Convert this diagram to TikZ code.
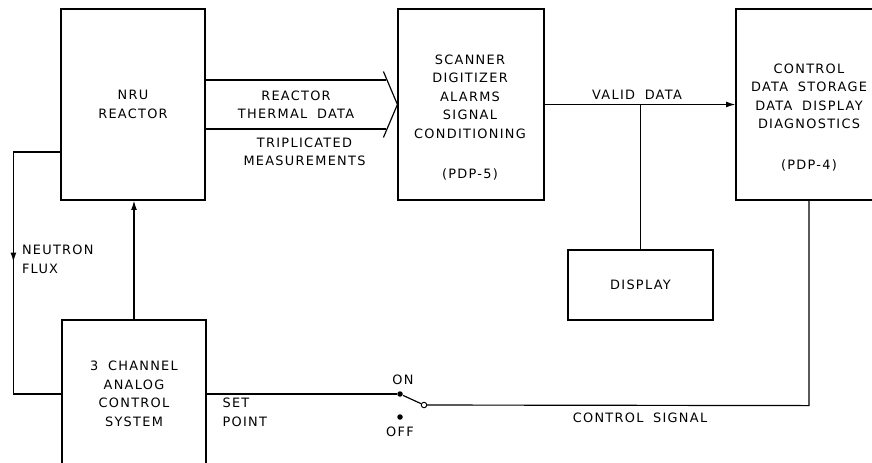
\documentclass[tikz,border=0pt]{standalone}
\usepackage{fontspec}
\setmainfont[LetterSpace=10,WordSpace=1.8]{DejaVu Sans}
\usetikzlibrary{positioning,arrows.meta,calc}

\newcommand{\pxu}{0.03cm}

\begin{document}
\begin{tikzpicture}[x=\pxu, y=-\pxu,
  box/.style={draw, line width=1pt, inner sep=0pt},
  lbl/.style={align=center, font=\fontsize{11}{15.8}\selectfont, inner sep=0pt},
  dot/.style={circle, fill, inner sep=0pt, minimum size=5.5*\pxu},
  ring/.style={circle, draw, fill=white, line width=0.8pt, inner sep=0pt, minimum size=5.5*\pxu},
  >={Latex[length=8pt,width=5pt]}, line width=1pt]
\useasboundingbox (0,0) rectangle (872,462);
\clip (0,0) rectangle (872,462);

% blocks
\node[box, lbl, minimum width=144*\pxu, minimum height=191*\pxu] (reactor) at (133,104.5) {NRU\\REACTOR};
\node[box, minimum width=146*\pxu, minimum height=191*\pxu] (scan) at (471,104.5) {};
\node[box, minimum width=146*\pxu, minimum height=191*\pxu] (pdp4) at (809,104.5) {};
\node[box, lbl, minimum width=145*\pxu, minimum height=70*\pxu] (disp) at (640.5,285) {DISPLAY};
\node[box, minimum width=144*\pxu, minimum height=148*\pxu] (ctrl) at (134,394) {};

\node[lbl] (scantxt) at ($(scan.center)+(-1,13)$) {SCANNER\\DIGITIZER\\ALARMS\\SIGNAL\\CONDITIONING\\[19pt](PDP-5)};
\node[lbl] (pdptxt) at ($(pdp4.center)+(0,13)$) {CONTROL\\DATA STORAGE\\DATA DISPLAY\\DIAGNOSTICS\\[19pt](PDP-4)};
\node[lbl] (ctrltxt) at (ctrl.center) {3 CHANNEL\\ANALOG\\CONTROL\\SYSTEM};

% thermal data bus
\coordinate (chev) at (scan.west);
\draw ($(reactor.east)+(0,-24.5)$) -- ($(chev)+(-11,-24.5)$);
\draw ($(reactor.east)+(0,24.5)$) -- ($(chev)+(-11,24.5)$);
\draw ($(chev)+(-14,-33)$) -- (chev) -- ($(chev)+(-14,33)$);
\node[lbl] (thermal) at (296,104.5) {REACTOR\\THERMAL DATA};
\node[lbl] (tripl) at (304.5,152) {TRIPLICATED\\MEASUREMENTS};

% valid data
\draw[->] (scan.east) -- (pdp4.west);
\draw (disp.north) -- (disp.north |- scan.east);
\node[lbl] (valid) at (637,95) {VALID DATA};

% neutron flux loop
\coordinate (fluxc) at ($(reactor.west)+(-47,47.5)$);
\draw ($(reactor.west)+(0,47.5)$) -- (fluxc) |- (ctrl.west);
\draw[->] (fluxc) -- ($(fluxc)+(0,110)$);
\node[lbl, align=left, anchor=west] (flux) at ($(fluxc)+(8,107.5)$) {NEUTRON\\FLUX};
\draw[->] (ctrl.north) -- (ctrl.north |- reactor.south);

% switch and control signal
\node[dot] (on) at (400,394) {};
\node[dot] (off) at (400,417) {};
\node[ring] (swb) at (424,405) {};
\draw (ctrl.east) -- (on);
\draw (on) -- (swb);
\node[lbl] (ontxt) at (403,380) {ON};
\node[lbl] (offtxt) at (400,432) {OFF};
\node[lbl, align=left, anchor=west] (setpt) at (222,412.5) {SET\\POINT};
\coordinate (csig) at ($(pdp4.south)+(0,205)$);
\draw (swb) -- (csig) -- (pdp4.south);
\node[lbl] (ctrlsig) at (640,418) {CONTROL SIGNAL};
\end{tikzpicture}
\end{document}
